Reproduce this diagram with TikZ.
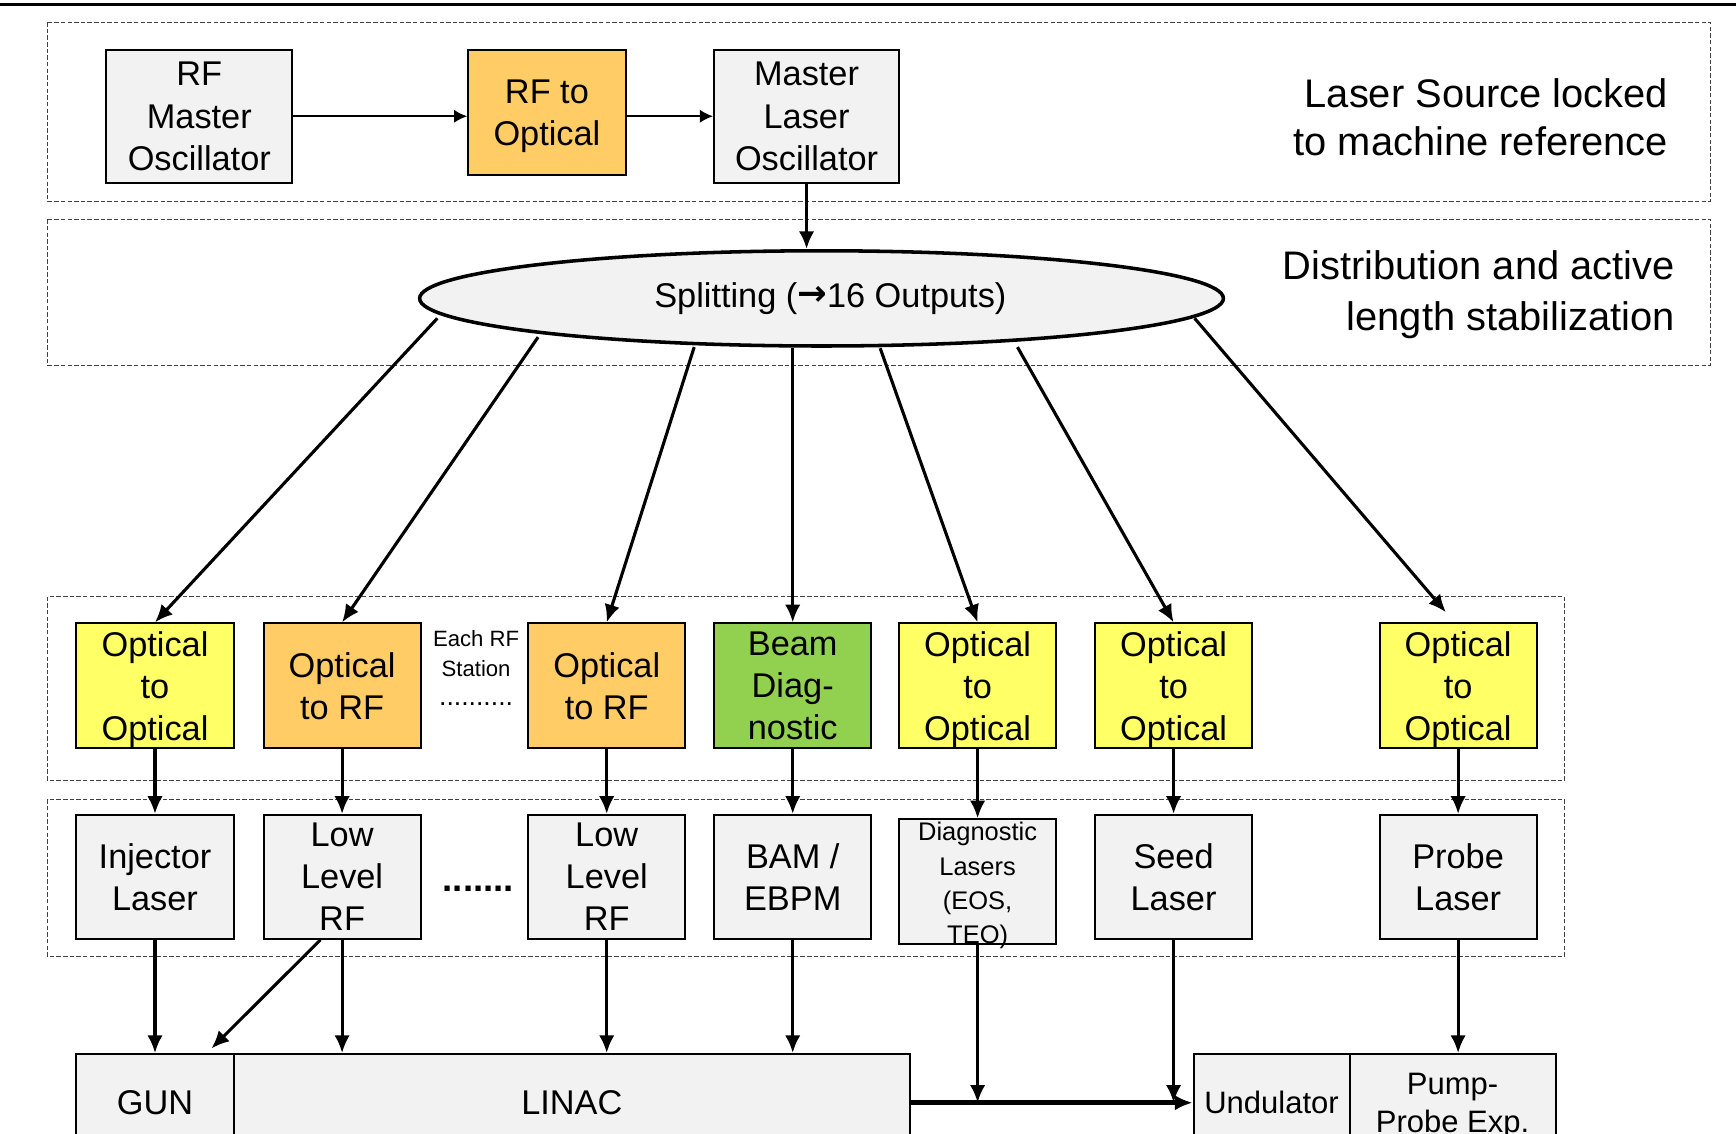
\documentclass[tikz,border=0pt]{standalone}
\usepackage{fontspec}
\setmainfont{Liberation Sans}
\newfontfamily\symfont{DejaVu Sans}
\usetikzlibrary{arrows.meta,shapes.geometric,calc}

\definecolor{boxgray}{HTML}{F2F2F2}
\definecolor{rforange}{HTML}{FFCC66}
\definecolor{optyellow}{HTML}{FFFF66}
\definecolor{diaggreen}{HTML}{92D050}
\definecolor{framegray}{HTML}{404040}

\begin{document}
\begin{tikzpicture}[x=0.5pt,y=-0.5pt,
  blk/.style={draw, line width=0.9pt, fill=boxgray, align=center, inner sep=0pt,
    text depth=-1.5pt, font={\fontsize{15.5}{19}\selectfont}},
  rowbox/.style={minimum width=71pt, minimum height=56.5pt},
  lowbox/.style={minimum width=71pt, minimum height=56pt},
  arr/.style={-{Latex[length=8pt,width=7pt]}, line width=1.4pt},
  thinarr/.style={-{Latex[length=6pt,width=6pt]}, line width=1pt},
  frame/.style={draw=framegray, line width=0.5pt, dash pattern=on 2pt off 1pt},
  sidetext/.style={anchor=east, align=right, inner sep=0pt},
]
\useasboundingbox (0,0) rectangle (1568,1024);
\clip (0,0) rectangle (1568,1024);

% rule across the top
\draw[line width=1pt] (0,4) -- (1568,4);

% dashed group frames
\draw[frame] (43,20) rectangle (1545,182);
\draw[frame] (43,198) rectangle (1545,330);
\draw[frame] (43,539) rectangle (1413,705);
\draw[frame] (43,722) rectangle (1413,864);

% laser source
\node[blk, minimum width=84pt, minimum height=60pt] (rfm) at (180,105) {RF\\Master\\Oscillator};
\node[blk, fill=rforange, rowbox] (r2o) at (494,101.5) {RF to\\Optical};
\node[blk, minimum width=83.5pt, minimum height=60pt] (mlo) at (728.5,105) {Master\\Laser\\Oscillator};
\draw[thinarr] (rfm.east) -- (rfm.east -| r2o.west);
\draw[thinarr] (r2o.east |- rfm.east) -- (mlo.west);

\node[sidetext, font={\fontsize{18}{22}\selectfont}] (lbla) at (1507,106)
  {Laser Source locked\\to machine reference};

% distribution
\node[draw, ellipse, line width=1.6pt, fill=boxgray, minimum width=363pt, minimum height=43pt,
  inner sep=0pt, font={\fontsize{15.5}{19}\selectfont}] (split) at (742,269.5)
  {\hspace{8pt}Splitting (\raisebox{0.6pt}{\symfont\bfseries\fontsize{16}{19}\selectfont →}16 Outputs)};
\draw[arr] (mlo.south) -- (mlo.south |- split.north);

\node[sidetext, font={\fontsize{18}{23}\selectfont}] (lblb) at (1513,266)
  {Distribution and active\\length stabilization};

% optical front-ends
\node[blk, fill=optyellow, rowbox] (oo1) at (140,619.5) {Optical\\to\\Optical};
\node[blk, fill=rforange, rowbox] (or1) at (309,619.5) {Optical\\to RF};
\node[blk, fill=rforange, rowbox] (or2) at (548,619.5) {Optical\\to RF};
\node[blk, fill=diaggreen, rowbox] (bd) at (716,619.5) {Beam\\Diag-\\nostic};
\node[blk, fill=optyellow, rowbox] (oo2) at (883,619.5) {Optical\\to\\Optical};
\node[blk, fill=optyellow, rowbox] (oo3) at (1060,619.5) {Optical\\to\\Optical};
\node[blk, fill=optyellow, rowbox] (oo4) at (1317,619.5) {Optical\\to\\Optical};

\node[align=center, inner sep=0pt, font={\fontsize{10}{13.5}\selectfont}] (each) at (430,590) {Each RF\\Station};
\node[inner sep=0pt, font={\fontsize{12}{14}\selectfont}] (edots) at (430,636) {..........};

% split outputs
\coordinate (p7) at (1306,553);
\draw[arr] ($(split.center)+(-347,18)$) -- (oo1.north);
\draw[arr] ($(split.center)+(-256,35)$) -- (or1.north);
\draw[arr] ($(split.center)+(-115,44)$) -- (or2.north);
\draw[arr] (bd.north |- split.south) -- (bd.north);
\draw[arr] ($(split.center)+(53,45)$) -- (oo2.north);
\draw[arr] ($(split.center)+(177,44)$) -- (oo3.north);
\draw[arr] ($(split.center)+(337,18)$) -- (p7);

% end stations
\node[blk, lowbox] (inj) at (140,792) {Injector\\Laser};
\node[blk, lowbox] (ll1) at (309,792) {Low\\Level\\RF};
\node[blk, lowbox] (ll2) at (548,792) {Low\\Level\\RF};
\node[blk, lowbox] (bam) at (716,792) {BAM /\\EBPM};
\node[blk, rowbox] (dl) at (883,796.5) {};
\node[align=center, inner sep=0pt, font={\fontsize{11.5}{15.5}\selectfont}] (dltext) at (883,800)
  {Diagnostic\\Lasers\\(EOS,\\TEO)};
\node[blk, lowbox] (seed) at (1060,792) {Seed\\Laser};
\node[blk, lowbox] (probe) at (1317,792) {Probe\\Laser};

\node[inner sep=0pt, font={\bfseries\fontsize{16.5}{19}\selectfont}] (ldots) at (432,803) {.......};

\draw[arr] (oo1.south) -- (inj.north);
\draw[arr] (or1.south) -- (ll1.north);
\draw[arr] (or2.south) -- (ll2.north);
\draw[arr] (bd.south) -- (bam.north);
\draw[arr] (oo2.south) -- (dl.north);
\draw[arr] (oo3.south) -- (seed.north);
\draw[arr] (oo4.south) -- (probe.north);

% machine
\node[blk, minimum width=71pt, minimum height=44pt] (gun) at (140,996) {GUN};
\node[blk, minimum width=305.5pt, minimum height=44pt] (linac) at (516.5,996) {LINAC};
\node[blk, minimum width=70.5pt, minimum height=44pt, font={\fontsize{14}{17}\selectfont}] (und) at (1148.5,996) {Undulator};
\node[blk, minimum width=93pt, minimum height=44pt, font={\fontsize{14}{17}\selectfont}] (pp) at (1312,996) {Pump-\\Probe Exp.};

\coordinate (gunin) at (191,947);
\draw[arr] (inj.south) -- (inj.south |- gun.north);
\draw[arr] (ll1.251) -- (gunin);
\draw[arr] (ll1.south) -- (ll1.south |- linac.north);
\draw[arr] (ll2.south) -- (ll2.south |- linac.north);
\draw[arr] (bam.south) -- (bam.south |- linac.north);
\draw[arr, line width=2.4pt] (linac.east) -- (und.west);
\draw[arr] (dl.south) -- (dl.south |- linac.east);
\draw[arr] (seed.south) -- (seed.south |- linac.east);
\draw[arr] (probe.south) -- (probe.south |- pp.north);
\end{tikzpicture}
\end{document}
